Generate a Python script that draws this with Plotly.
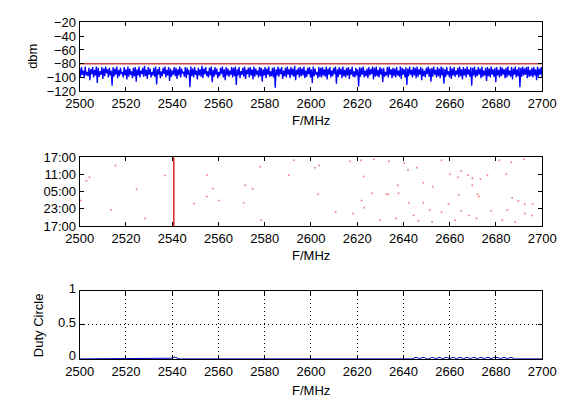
import numpy as np
import plotly.graph_objects as go

# ---------------- data ----------------
freq_range = [2500, 2700]
freq_ticks = [2500, 2520, 2540, 2560, 2580, 2600, 2620, 2640, 2660, 2680, 2700]

# spectrum (dBm), evenly spaced over 2500..2700 MHz
spectrum_dbm = [
    -87,-99,-85,-96,-90,-101,-84,-97,-92,-98,-86,-104,-88,-95,-85,-100,-89,-97,-84,-108,
    -86,-99,-91,-96,-85,-102,-87,-98,-84,-94,-88,-100,-86,-97,-90,-112,-85,-99,-87,-96,
    -84,-101,-89,-98,-86,-95,-92,-100,-85,-97,-88,-103,-84,-99,-87,-96,-91,-101,-86,-98,
    -85,-106,-88,-97,-84,-100,-90,-95,-86,-99,-83,-98,-89,-102,-85,-96,-87,-100,-92,-97,
    -86,-99,-84,-110,-88,-96,-85,-101,-91,-98,-86,-95,-84,-100,-89,-97,-85,-105,-87,-99,
    -90,-96,-85,-98,-86,-102,-88,-97,-84,-100,-87,-94,-92,-99,-85,-101,-86,-96,-89,-114,
    -84,-98,-87,-100,-85,-96,-90,-103,-86,-97,-88,-99,-83,-101,-87,-95,-85,-98,-91,-100,
    -86,-97,-84,-107,-89,-99,-85,-96,-87,-101,-92,-98,-86,-95,-84,-100,-88,-104,-85,-97,
    -87,-99,-90,-96,-85,-100,-86,-98,-84,-111,-88,-97,-85,-101,-91,-96,-86,-99,-84,-102,
    -89,-95,-86,-100,-85,-97,-88,-103,-84,-99,-87,-96,-90,-100,-85,-98,-86,-106,-88,-97,
    -85,-101,-87,-96,-84,-99,-91,-98,-86,-100,-85,-115,-88,-97,-84,-99,-87,-95,-85,-102,
    -90,-98,-86,-100,-84,-96,-88,-101,-85,-97,-87,-99,-83,-104,-89,-96,-86,-100,-85,-98,
    -87,-97,-84,-101,-90,-99,-86,-95,-85,-100,-88,-108,-84,-98,-87,-96,-92,-101,-85,-99,
    -86,-100,-85,-97,-88,-99,-84,-103,-87,-96,-85,-100,-90,-98,-86,-95,-84,-109,-88,-99,
    -85,-96,-87,-101,-84,-98,-89,-100,-86,-97,-85,-102,-88,-96,-84,-99,-91,-100,-86,-97,
    -88,-113,-85,-99,-86,-96,-84,-100,-90,-98,-87,-101,-85,-97,-88,-95,-84,-103,-86,-99,
    -84,-98,-89,-100,-85,-96,-87,-107,-86,-99,-92,-97,-85,-100,-84,-96,-88,-101,-86,-98,
    -87,-100,-85,-97,-90,-99,-84,-102,-86,-96,-88,-100,-85,-111,-87,-98,-84,-96,-89,-100,
    -85,-97,-86,-101,-84,-99,-88,-96,-85,-104,-87,-98,-90,-100,-86,-95,-84,-99,-87,-106,
    -86,-99,-84,-96,-89,-100,-85,-98,-87,-101,-84,-97,-86,-109,-88,-99,-85,-96,-91,-100,
    -84,-102,-87,-97,-85,-99,-90,-96,-86,-100,-84,-98,-88,-103,-85,-97,-87,-100,-84,-96,
    -88,-99,-85,-112,-86,-97,-84,-100,-89,-98,-85,-96,-87,-101,-84,-99,-90,-97,-86,-105,
    -85,-98,-87,-100,-84,-96,-88,-99,-86,-107,-85,-97,-89,-100,-84,-98,-86,-96,-88,-101,
    -86,-100,-84,-97,-90,-99,-85,-103,-87,-96,-84,-100,-88,-98,-85,-114,-86,-99,-84,-97,
    -87,-96,-85,-101,-84,-99,-89,-98,-86,-100,-85,-97,-88,-104,-84,-99,-87,-96,-85,-100,
]
threshold_dbm = -80

# occupancy events: frequency (MHz) and time (hours after 17:00)
event_freq = [
    2515.5, 2502.9, 2524.6, 2500.5, 2513.5, 2528.3, 2536.9, 2555.0, 2557.7, 2555.0,
    2560.2, 2549.5, 2504.2, 2578.1, 2590.4, 2592.6, 2603.6, 2601.8, 2574.8, 2571.6,
    2570.9, 2603.1, 2616.9, 2621.6, 2627.2, 2622.8, 2626.5, 2632.6, 2621.9, 2623.0,
    2618.2, 2610.7, 2578.5, 2629.9, 2633.7, 2640.3, 2645.8, 2642.0, 2656.5, 2665.0,
    2660.2, 2663.6, 2668.0, 2669.8, 2673.3, 2676.3, 2681.5, 2684.5, 2686.7, 2692.2,
    2669.8, 2648.6, 2652.7, 2637.6, 2637.9, 2633.5, 2672.0, 2672.6, 2663.9, 2642.4,
    2648.6, 2659.5, 2689.7, 2692.5, 2695.9, 2656.5, 2651.3, 2665.0, 2678.0, 2644.4,
    2636.9, 2646.5, 2652.4, 2662.3, 2668.4, 2671.6, 2682.8, 2688.3, 2692.5, 2695.5,
    2684.9, 2687.0,
]
event_hour = [
    21.1, 15.7, 12.8, 8.9, 5.6, 2.6, 17.6, 17.8, 13.1, 10.3,
    8.9, 7.9, 17.0, 20.7, 17.8, 22.9, 21.1, 20.3, 12.9, 14.2,
    8.1, 11.1, 22.6, 22.9, 23.3, 17.3, 11.4, 11.1, 8.9, 6.4,
    4.4, 4.8, 2.0, 2.0, 22.6, 22.0, 20.3, 19.6, 22.9, 19.2,
    18.1, 17.0, 17.8, 16.7, 16.4, 17.8, 22.9, 18.1, 22.2, 23.3,
    14.2, 15.1, 13.7, 14.2, 11.4, 11.1, 11.1, 10.3, 10.9, 8.1,
    8.1, 7.8, 8.7, 7.6, 7.6, 4.8, 5.6, 5.3, 5.3, 3.7,
    2.6, 1.8, 1.4, 2.0, 3.7, 2.6, 2.0, 1.4, 4.4, 3.7,
    5.6, 9.8,
]
busy_freq = 2540.7
time_ticks = [0, 6, 12, 18, 24]
time_labels = ["17:00", "23:00", "05:00", "11:00", "17:00"]

# duty cycle per 1 MHz bin, 2500..2700
duty = [
    0,0,0,0,0,0,0,0,0,0,0,0,0,0,0,0,0,0,0,0,
    0,0,0,0,0,0,0,0,0,0,0,0,0,0,0,0,0,0,0,0,
    0.01,0.03,0.01,0,0,0,0,0,0,0,0,0,0,0,0,0,0,0,0,0,
    0,0,0,0,0,0,0,0,0,0,0,0,0,0,0,0,0,0,0,0,
    0,0,0,0,0,0,0,0,0,0,0,0,0,0,0,0,0,0,0,0,
    0,0,0,0,0,0,0,0,0,0,0,0,0,0,0,0,0,0,0,0,
    0,0,0,0,0,0,0,0,0,0,0,0,0,0,0,0,0,0,0,0,
    0,0,0,0,0,0.02,0.02,0,0.02,0.02,0,0,0.02,0.02,0,0.02,0.02,0,0.02,0.02,
    0,0.02,0.02,0,0.02,0.02,0,0.02,0.02,0,0.02,0.02,0,0.02,0.02,0,0.02,0.02,0,0.02,
    0.02,0.02,0,0.02,0.02,0,0.02,0.02,0,0,0,0,0,0,0,0,0,0,0,0,
    0,
]

# ---------------- figure ----------------
W, H = 579, 408
FONT = "Liberation Sans Narrow, Arial Narrow, Liberation Sans, Arial, sans-serif"

spec_x = np.linspace(freq_range[0], freq_range[1], len(spectrum_dbm))
duty_x = np.linspace(freq_range[0], freq_range[1], len(duty))

fig = go.Figure()
fig.add_trace(go.Scatter(x=spec_x, y=spectrum_dbm, mode="lines",
                         line=dict(color="#0000ff", width=1.3), xaxis="x", yaxis="y"))
fig.add_trace(go.Scatter(x=freq_range, y=[threshold_dbm, threshold_dbm], mode="lines",
                         line=dict(color="#d04040", width=1.5), xaxis="x", yaxis="y"))
fig.add_trace(go.Scatter(x=event_freq, y=event_hour, mode="markers",
                         marker=dict(color="rgba(225,90,90,0.7)", size=2, line=dict(width=0)),
                         xaxis="x2", yaxis="y2"))
fig.add_trace(go.Scatter(x=[busy_freq, busy_freq], y=[0, 24], mode="lines",
                         line=dict(color="#e02020", width=1.5), xaxis="x2", yaxis="y2"))
fig.add_trace(go.Scatter(x=duty_x, y=duty, mode="lines",
                         line=dict(color="#0000c0", width=1), xaxis="x3", yaxis="y3"))

def px_x(p):
    return p / W

def px_y(p):
    return 1 - p / H

xdom = [px_x(69), px_x(555)]
common_x = dict(range=freq_range, tickvals=freq_ticks, ticks="inside", ticklen=4,
                tickcolor="black", showline=True, linecolor="black", linewidth=1,
                mirror="ticks", showgrid=False, zeroline=False,
                tickfont=dict(family=FONT, size=13, color="black"), domain=xdom)
common_y = dict(ticks="inside", ticklen=4, tickcolor="black", showline=True,
                linecolor="black", linewidth=1, mirror="ticks", showgrid=False,
                zeroline=False, tickfont=dict(family=FONT, size=13, color="black"))

fig.update_layout(
    width=W, height=H, margin=dict(l=0, r=0, t=0, b=0),
    paper_bgcolor="white", plot_bgcolor="white", showlegend=False,
    xaxis=dict(common_x, anchor="y"),
    yaxis=dict(common_y, anchor="x", range=[-120, -20],
               tickvals=[-120, -100, -80, -60, -40, -20],
               domain=[px_y(85), px_y(13)]),
    xaxis2=dict(common_x, anchor="y2"),
    yaxis2=dict(common_y, anchor="x2", range=[0, 24], tickvals=time_ticks,
                ticktext=time_labels, domain=[px_y(226), px_y(154)]),
    xaxis3=dict(common_x, anchor="y3", showgrid=True, gridcolor="black",
                griddash="1px,3px", gridwidth=1, ticklabelstandoff=1),
    yaxis3=dict(common_y, anchor="x3", range=[0, 1], tickvals=[0, 0.5, 1],
                ticktext=["0", "0.5", "1"], showgrid=True, gridcolor="black",
                griddash="1px,3px", gridwidth=1, ticklabelshift=-3,
                domain=[px_y(365), px_y(294)]),
)

ann_font = dict(family=FONT, size=13, color="black")
for yp in [116, 257, 398]:
    fig.add_annotation(text="F/MHz", x=px_x(312), y=px_y(yp), xref="paper", yref="paper",
                       showarrow=False, font=ann_font, xanchor="center", yanchor="middle")
fig.add_annotation(text="dbm", x=px_x(20), y=px_y(49), xref="paper", yref="paper",
                   showarrow=False, font=ann_font, textangle=-90,
                   xanchor="center", yanchor="middle")
fig.add_annotation(text="Duty Circle", x=px_x(26), y=px_y(330), xref="paper", yref="paper",
                   showarrow=False, font=ann_font, textangle=-90,
                   xanchor="center", yanchor="middle")

fig.write_html("out.html")
